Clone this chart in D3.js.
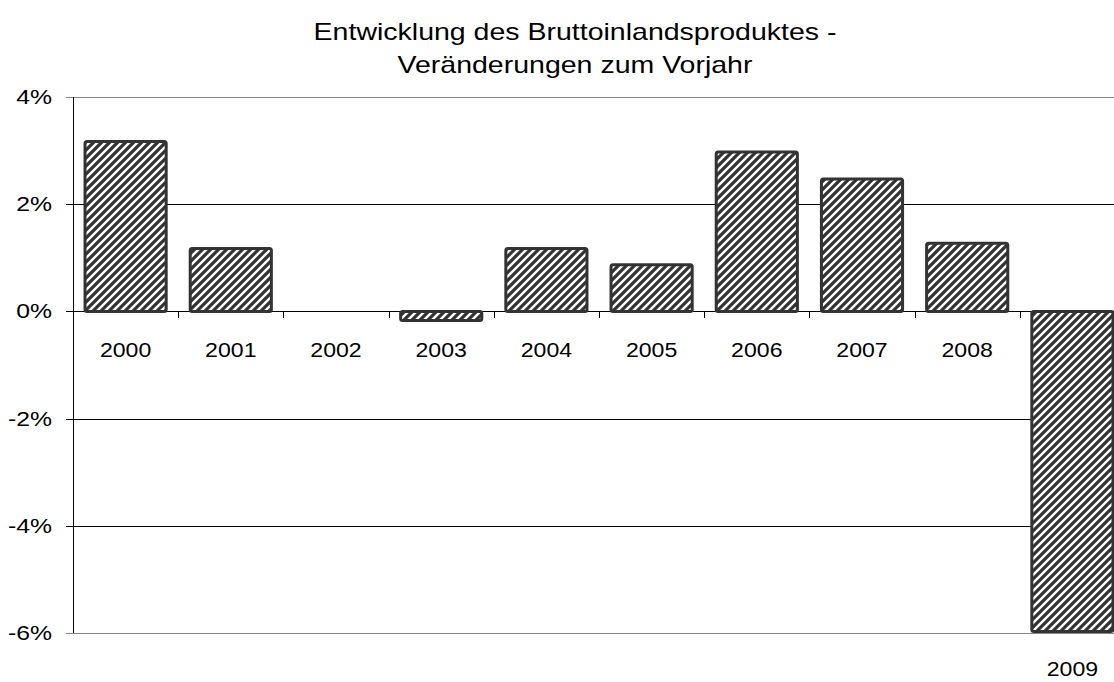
<!DOCTYPE html>
<html><head><meta charset="utf-8">
<script src="https://cdn.jsdelivr.net/npm/d3@7"></script>
<style>body{margin:0;background:#fff}svg{display:block;font-family:"Liberation Sans",Arial,sans-serif}</style>
</head><body><svg id="c" width="1114" height="682"></svg>
<script>
const years = ["2000","2001","2002","2003","2004","2005","2006","2007","2008","2009"];
const values = [3.2, 1.2, 0, -0.2, 1.2, 0.9, 3.0, 2.5, 1.3, -6.0];
const yTicks = [4, 2, 0, -2, -4, -6];
const titleLines = ["Entwicklung des Bruttoinlandsproduktes -", "Veränderungen zum Vorjahr"];

const svg = d3.select("#c");
const x = d3.scaleBand().domain(years).range([73, 1125]).paddingInner(0.2).paddingOuter(0.1);
const xb = d3.scaleBand().domain(years).range([73, 1125]);
const y = d3.scaleLinear().domain([-6, 4]).range([633, 97]);

const defs = svg.append("defs");
const pat = defs.append("pattern").attr("id","hatch").attr("patternUnits","userSpaceOnUse")
  .attr("width",8).attr("height",8);
pat.append("rect").attr("width",8).attr("height",8).attr("fill","#333");
pat.append("path").attr("d","M-2,2 L2,-2 M0,8 L8,0 M6,10 L10,6")
  .attr("stroke","#fff").attr("stroke-width",2.4);

// gridlines
svg.append("g").selectAll("line").data(yTicks).join("line")
  .attr("x1",66).attr("x2",1114)
  .attr("y1",d=>Math.round(y(d))+0.5).attr("y2",d=>Math.round(y(d))+0.5)
  .attr("stroke",d=>(d===4||d===-6)?"#888":"#000").attr("stroke-width",1);

// y axis line
svg.append("line").attr("x1",73.5).attr("x2",73.5).attr("y1",97).attr("y2",633).attr("stroke","#000");

// category ticks on zero line
svg.append("g").selectAll("line").data(years.slice(1)).join("line")
  .attr("x1",d=>Math.round(xb(d))+0.5).attr("x2",d=>Math.round(xb(d))+0.5)
  .attr("y1",Math.round(y(0))).attr("y2",Math.round(y(0))+7).attr("stroke","#000");

// bars
svg.append("g").selectAll("rect").data(years.map((k,i)=>({k,v:values[i]}))).join("rect")
  .filter(d=>d.v!==0)
  .attr("x",d=>x(d.k)+1.5).attr("width",x.bandwidth()-3)
  .attr("y",d=>y(Math.max(0,d.v))+ (d.v>0?1.5:0))
  .attr("height",d=>Math.abs(y(d.v)-y(0))-1.5)
  .attr("fill","url(#hatch)").attr("stroke","#333").attr("stroke-width",3).attr("rx",2);

// y tick labels
svg.append("g").selectAll("text").data(yTicks).join("text")
  .attr("transform",d=>`translate(52,${y(d)+7}) scale(1.18,1)`).attr("text-anchor","end")
  .attr("font-size",21).text(d=>d+"%");

// category labels
svg.append("g").selectAll("text").data(years.map((k,i)=>({k,v:values[i]}))).join("text")
  .attr("transform",d=>`translate(${xb(d.k)+xb.bandwidth()/2},${d.v<-1 ? y(d.v)+43 : y(0)+46}) scale(1.1,1)`)
  .attr("text-anchor","middle").attr("font-size",21).text(d=>d.k);

// title
svg.append("g").selectAll("text").data(titleLines).join("text")
  .attr("transform",(d,i)=>`translate(575,${40+i*33}) scale(1.24,1)`).attr("text-anchor","middle")
  .attr("font-size",23).text(d=>d);
</script></body></html>
